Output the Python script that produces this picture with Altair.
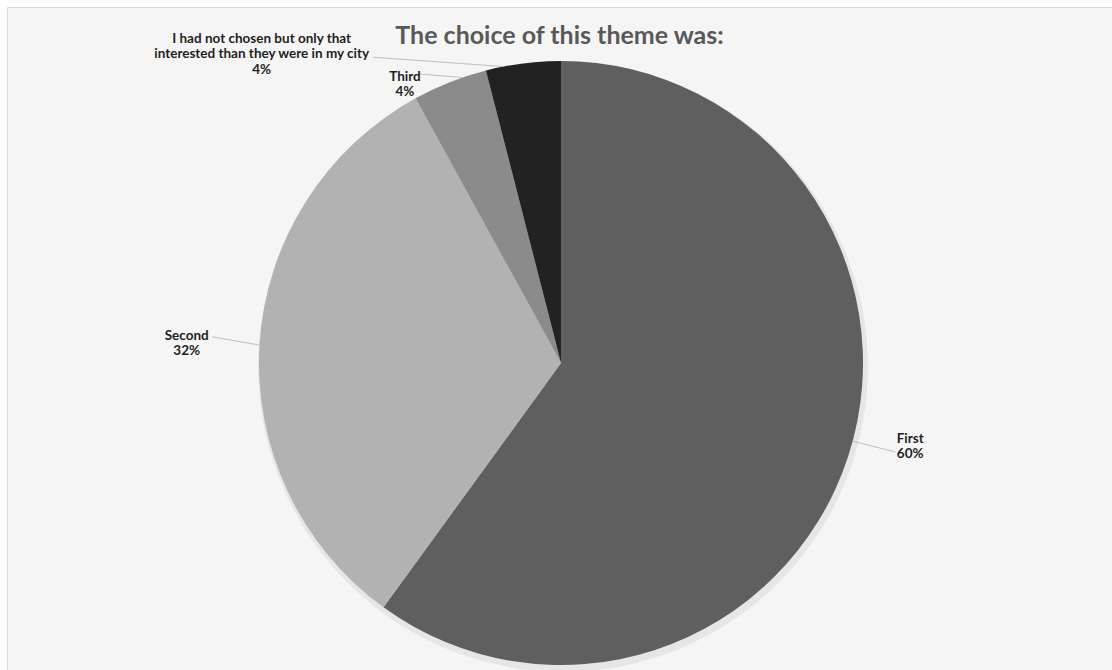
import altair as alt
import pandas as pd

# ---- data ----
categories = [
    "First",
    "Second",
    "Third",
    "I had not chosen but only that\ninterested than they were in my city",
]
values = [60, 32, 4, 4]
colors = ["#5f5f5f", "#b2b2b2", "#8b8b8b", "#222222"]

df = pd.DataFrame({"category": categories, "value": values, "order": list(range(len(values)))})

# ---- layout (pixels, relative to the plot area) ----
CX, CY, R = 554, 356, 302
LH = 15.5
label_off = "[-0.080, -0.003, -0.134, -0.642]"
label_r = "[359, 375, 319, 431]"
label_shift = f"[{LH/2}, {LH/2 - 3}, {LH/2}, {LH - 1.5}]"
lead_a1 = "[105.0, 273.4, 341.0, 349.0]"
lead_a2 = "[104.9, 274.3, 333.8, 328.4]"
lead_r2 = "[346, 350, 322, 359]"

base = (
    alt.Chart(df)
    .transform_joinaggregate(total="sum(value)")
    .transform_window(cum="sum(value)", sort=[alt.SortField("order")])
    .transform_calculate(
        mid="2*PI*(datum.cum - datum.value/2)/datum.total",
        label="datum.category + '\\n' + format(datum.value/datum.total, '.0%')",
    )
    .transform_calculate(
        labelTheta=f"datum.mid + {label_off}[datum.order]",
        labelR=f"{label_r}[datum.order]",
        a1=f"{lead_a1}[datum.order]*PI/180",
        a2=f"{lead_a2}[datum.order]*PI/180",
        r2=f"{lead_r2}[datum.order]",
    )
    .transform_calculate(
        tx=f"{CX} + datum.labelR*sin(datum.labelTheta)",
        ty=f"{CY} - datum.labelR*cos(datum.labelTheta) - {label_shift}[datum.order]",
        lx1=f"{CX} + {R}*sin(datum.a1)",
        ly1=f"{CY} - {R}*cos(datum.a1)",
        lx2=f"{CX} + datum.r2*sin(datum.a2)",
        ly2=f"{CY} - datum.r2*cos(datum.a2)",
    )
)

shadow = base.mark_arc(radius=R + 3, color="#000000", opacity=0.06).encode(
    theta=alt.Theta("value:Q", stack=True),
    order=alt.Order("order:Q"),
    x=alt.value(CX + 2),
    y=alt.value(CY + 4),
)

pie = base.mark_arc(radius=R).encode(
    theta=alt.Theta("value:Q", stack=True),
    order=alt.Order("order:Q"),
    color=alt.Color("category:N", scale=alt.Scale(domain=categories, range=colors), legend=None),
    x=alt.value(CX),
    y=alt.value(CY),
)

leaders = base.mark_rule(color="#bfbfbf", strokeWidth=1).encode(
    x=alt.X("lx1:Q", scale=None, axis=None),
    y=alt.Y("ly1:Q", scale=None, axis=None),
    x2="lx2:Q",
    y2="ly2:Q",
)

labels = base.mark_text(
    font="Lato",
    fontWeight="bold",
    fontSize=13.5,
    lineBreak="\n",
    lineHeight=LH,
    color="#1f1f1f",
    align="center",
    baseline="middle",
).encode(
    x=alt.X("tx:Q", scale=None, axis=None),
    y=alt.Y("ty:Q", scale=None, axis=None),
    text="label:N",
)

chart = (
    alt.layer(shadow, pie, leaders, labels)
    .properties(
        width=1105,
        height=663,
        padding={"left": 7, "top": 7, "right": 0, "bottom": 0},
        autosize=alt.AutoSizeParams(type="none"),
        background="white",
        title=alt.Title(
            "The choice of this theme was:",
            font="Lato",
            fontSize=25,
            fontWeight="bold",
            color="#595959",
            anchor="middle",
            baseline="alphabetic",
            offset=-62,
        ),
    )
    .configure_view(fill="#f5f5f5", stroke="#d9d9d9")
)

chart.save("out.html", embed_options={"renderer": "svg", "actions": False})
